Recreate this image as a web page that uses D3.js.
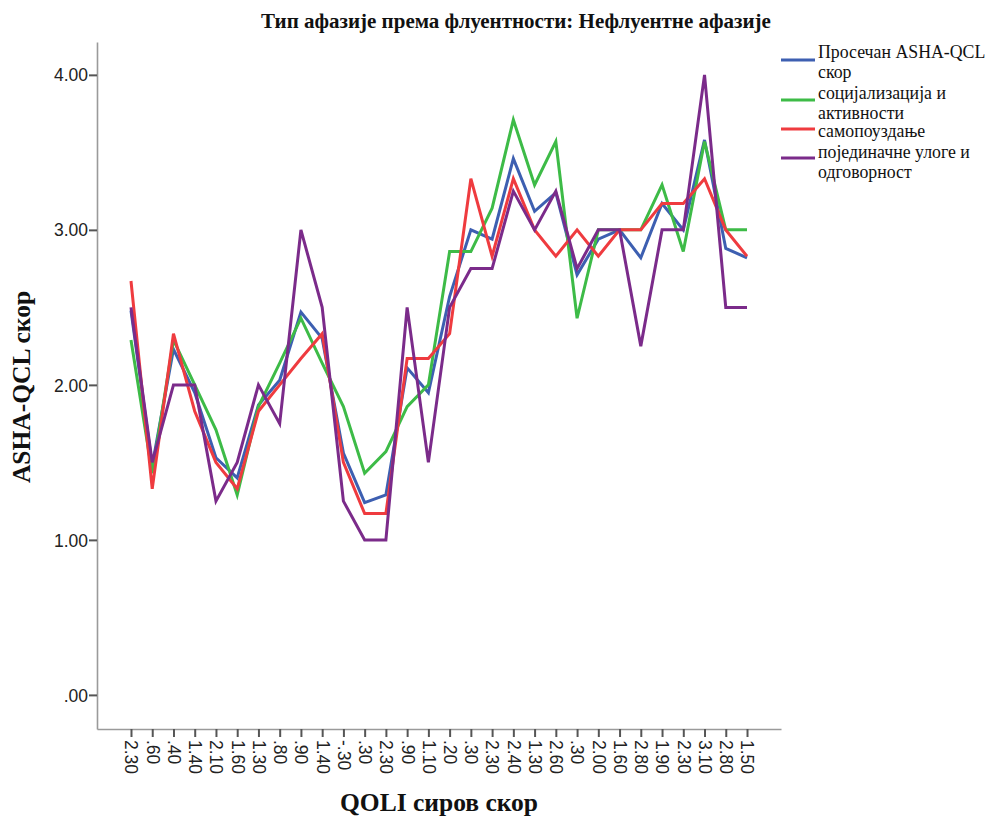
<!DOCTYPE html>
<html>
<head>
<meta charset="utf-8">
<script src="https://cdn.jsdelivr.net/npm/d3@7"></script>
<style>
  body { margin: 0; background: #fff; }
  svg { display: block; }
</style>
</head>
<body>
<svg id="chart" width="1000" height="818"></svg>
<script>
const xLabels = ["2.30",".60",".40","1.40","2.10","1.60","1.30",".80",".90","1.40","-.30",".30","2.30",".90","1.10",".20",".30","2.30","2.40","1.30","2.60",".30","2.00","1.60","2.80","1.90","2.30","3.10","2.80","1.50"];

const seriesNames = ["Просечан ASHA-QCL скор", "социјализација и активности", "самопоуздање", "појединачне улоге и одговорност"];

const meanScore = [2.48,1.48,2.23,1.95,1.53,1.40,1.87,2.03,2.47,2.30,1.56,1.24,1.29,2.11,1.95,2.57,3.00,2.94,3.46,3.12,3.24,2.71,2.94,3.00,2.82,3.17,3.00,3.58,2.88,2.82];
const socialization = [2.29,1.43,2.29,2.00,1.71,1.29,1.86,2.14,2.43,2.14,1.86,1.43,1.57,1.86,2.00,2.86,2.86,3.14,3.71,3.29,3.57,2.43,3.00,3.00,3.00,3.29,2.86,3.57,3.00,3.00];
const selfConfidence = [2.67,1.33,2.33,1.83,1.50,1.33,1.83,2.00,2.17,2.33,1.50,1.17,1.17,2.17,2.17,2.33,3.33,2.83,3.33,3.00,2.83,3.00,2.83,3.00,3.00,3.17,3.17,3.33,3.00,2.83];
const roles = [2.50,1.50,2.00,2.00,1.25,1.50,2.00,1.75,3.00,2.50,1.25,1.00,1.00,2.50,1.50,2.50,2.75,2.75,3.25,3.00,3.25,2.75,3.00,3.00,2.25,3.00,3.00,4.00,2.50,2.50];

const yTicks = [0, 1, 2, 3, 4];
const colors = ["#3d5fb1", "#3dbb47", "#ef3b3f", "#7b2b8a"];
const legendLines = [["Просечан ASHA-QCL", "скор"], ["социјализација и", "активности"], ["самопоуздање"], ["појединачне улоге и", "одговорност"]];

const allSeries = [meanScore, socialization, selfConfidence, roles];

const svg = d3.select("#chart");
const mLeft = 97, mRight = 781, mTop = 42, mBottom = 729;
const serif = "'Liberation Serif', 'Times New Roman', serif";

const x = d3.scalePoint().domain(d3.range(xLabels.length)).range([mLeft, mRight]).padding(1.6);
const y = d3.scaleLinear().domain([-0.22, 4.212]).range([mBottom, mTop]);

// axes
const yAxis = svg.append("g").attr("transform", `translate(${mLeft},0)`)
  .call(d3.axisLeft(y).tickValues(yTicks).tickSize(8).tickSizeOuter(0)
    .tickFormat(d => d === 0 ? ".00" : d3.format(".2f")(d)));
const xAxis = svg.append("g").attr("transform", `translate(0,${mBottom})`)
  .call(d3.axisBottom(x).tickSize(8).tickSizeOuter(0).tickFormat(i => xLabels[i]));

[yAxis, xAxis].forEach(g => {
  g.select(".domain").attr("stroke", "#9a9a9a").attr("stroke-width", 1.6);
  g.selectAll(".tick line").attr("stroke", "#555").attr("stroke-width", 2);
  g.selectAll(".tick text").attr("fill", "#222").style("font-family", "'Liberation Sans', Arial, sans-serif").style("font-size", "17.5px");
});
yAxis.selectAll(".tick text").attr("x", -9).attr("dy", "0.35em");
xAxis.selectAll(".tick text")
  .attr("transform", "rotate(90)")
  .attr("text-anchor", "start")
  .attr("x", 11).attr("y", 0).attr("dy", "0.35em");

// lines
const line = d3.line().x((d, i) => x(i)).y(d => y(d));
svg.append("g").selectAll("path").data(allSeries).join("path")
  .attr("d", line)
  .attr("fill", "none")
  .attr("stroke", (d, i) => colors[i])
  .attr("stroke-width", 3)
  .attr("stroke-linejoin", "miter");

// title
svg.append("text").attr("x", 516).attr("y", 28).attr("text-anchor", "middle")
  .style("font-family", serif).style("font-weight", "bold").style("font-size", "21px")
  .attr("fill", "#111").text("Тип афазије према флуентности: Нефлуентне афазије");

// axis titles
svg.append("text").attr("transform", "translate(30,387) rotate(-90)").attr("text-anchor", "middle")
  .style("font-family", serif).style("font-weight", "bold").style("font-size", "25.5px")
  .attr("fill", "#111").text("ASHA-QCL скор");
svg.append("text").attr("x", 439).attr("y", 811).attr("text-anchor", "middle")
  .style("font-family", serif).style("font-weight", "bold").style("font-size", "25.5px")
  .attr("fill", "#111").text("QOLI сиров скор");

// legend
const lineY = [60, 100, 129, 158];
const textY = [[58, 78], [99, 119], [137], [158, 178]];
const lg = svg.append("g");
legendLines.forEach((lines, i) => {
  lg.append("line").attr("x1", 781).attr("x2", 815).attr("y1", lineY[i]).attr("y2", lineY[i])
    .attr("stroke", colors[i]).attr("stroke-width", 3);
  lines.forEach((t, j) => {
    lg.append("text").attr("x", 818).attr("y", textY[i][j])
      .style("font-family", serif).style("font-size", "17.8px")
      .attr("fill", "#111").text(t);
  });
});
</script>
</body>
</html>
